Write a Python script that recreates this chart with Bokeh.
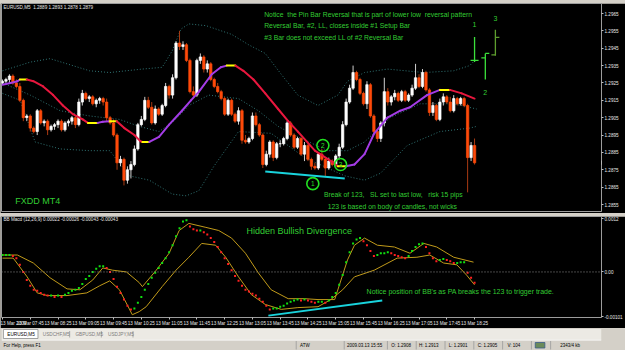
from bokeh.plotting import figure
from bokeh.layouts import column
from bokeh.models import (Range1d, FixedTicker, PrintfTickFormatter, Label,
                          ColumnDataSource, Span, Spacer)
from bokeh.embed import file_html
from bokeh.resources import INLINE
from bokeh.core.properties import value

FONT = "Liberation Sans"
SP = "\u00a0"

# ---------------- EURUSD M5, 13 Mar 2009 07:05 .. 18:25 ----------------
open_ = [1.2925, 1.2926, 1.2927, 1.2929, 1.2925, 1.2923, 1.2915, 1.2905, 1.2906, 1.2899,
         1.2897, 1.2909, 1.2902, 1.2903, 1.2898, 1.2900, 1.2901, 1.2903, 1.2898, 1.2902,
         1.2903, 1.2905, 1.2901, 1.2914, 1.2919, 1.2916, 1.2917, 1.2913, 1.2915, 1.2916,
         1.2914, 1.2905, 1.2902, 1.2895, 1.2879, 1.2881, 1.2869, 1.2875, 1.2878, 1.2887,
         1.2901, 1.2904, 1.2915, 1.2911, 1.2902, 1.2910, 1.2907, 1.2912, 1.2923, 1.2918,
         1.2928, 1.2948, 1.2946, 1.2947, 1.2938, 1.2920, 1.2918, 1.2938, 1.2940, 1.2933,
         1.2936, 1.2927, 1.2923, 1.2920, 1.2916, 1.2907, 1.2915, 1.2907, 1.2903, 1.2909,
         1.2892, 1.2891, 1.2893, 1.2906, 1.2901, 1.2895, 1.2878, 1.2884, 1.2891, 1.2882,
         1.2890, 1.2890, 1.2893, 1.2902, 1.2895, 1.2888, 1.2893, 1.2884, 1.2889, 1.2881,
         1.2877, 1.2876, 1.2884, 1.2881, 1.2876, 1.2880, 1.2878, 1.2883, 1.2888, 1.2901,
         1.2914, 1.2922, 1.2931, 1.2927, 1.2919, 1.2913, 1.2924, 1.2906, 1.2897, 1.2893,
         1.2902, 1.2920, 1.2914, 1.2917, 1.2919, 1.2915, 1.2920, 1.2915, 1.2918, 1.2922,
         1.2928, 1.2923, 1.2931, 1.2921, 1.2908, 1.2912, 1.2904, 1.2914, 1.2917, 1.2914,
         1.2909, 1.2916, 1.2913, 1.2916, 1.2912, 1.2882, 1.2889]
high = [1.2927, 1.2928, 1.2930, 1.2930, 1.2927, 1.2925, 1.2916, 1.2907, 1.2907, 1.2900,
        1.2910, 1.2910, 1.2904, 1.2904, 1.2901, 1.2902, 1.2904, 1.2904, 1.2903, 1.2904,
        1.2906, 1.2906, 1.2916, 1.2921, 1.2920, 1.2918, 1.2918, 1.2916, 1.2917, 1.2917,
        1.2916, 1.2906, 1.2904, 1.2896, 1.2883, 1.2882, 1.2877, 1.2880, 1.2889, 1.2902,
        1.2906, 1.2917, 1.2917, 1.2914, 1.2912, 1.2911, 1.2913, 1.2925, 1.2924, 1.2930,
        1.2949, 1.2955, 1.2949, 1.2948, 1.2939, 1.2923, 1.2939, 1.2942, 1.2941, 1.2938,
        1.2937, 1.2928, 1.2925, 1.2921, 1.2917, 1.2916, 1.2916, 1.2908, 1.2911, 1.2910,
        1.2895, 1.2894, 1.2908, 1.2908, 1.2902, 1.2896, 1.2886, 1.2892, 1.2892, 1.2891,
        1.2892, 1.2894, 1.2903, 1.2903, 1.2896, 1.2894, 1.2894, 1.2891, 1.2890, 1.2882,
        1.2879, 1.2885, 1.2887, 1.2882, 1.2882, 1.2881, 1.2884, 1.2890, 1.2903, 1.2916,
        1.2924, 1.2935, 1.2932, 1.2928, 1.2920, 1.2926, 1.2925, 1.2907, 1.2898, 1.2903,
        1.2928, 1.2922, 1.2918, 1.2921, 1.2920, 1.2921, 1.2921, 1.2919, 1.2924, 1.2936,
        1.2930, 1.2933, 1.2932, 1.2922, 1.2914, 1.2913, 1.2916, 1.2919, 1.2918, 1.2917,
        1.2918, 1.2917, 1.2917, 1.2917, 1.2913, 1.2891, 1.2893]
low = [1.2924, 1.2925, 1.2925, 1.2924, 1.2922, 1.2914, 1.2903, 1.2903, 1.2897, 1.2896,
       1.2895, 1.2901, 1.2900, 1.2895, 1.2897, 1.2898, 1.2899, 1.2897, 1.2897, 1.2900,
       1.2901, 1.2899, 1.2900, 1.2912, 1.2915, 1.2914, 1.2912, 1.2911, 1.2913, 1.2912,
       1.2903, 1.2901, 1.2894, 1.2875, 1.2877, 1.2866, 1.2867, 1.2870, 1.2877, 1.2886,
       1.2900, 1.2903, 1.2910, 1.2901, 1.2901, 1.2906, 1.2906, 1.2911, 1.2916, 1.2916,
       1.2927, 1.2944, 1.2944, 1.2937, 1.2919, 1.2917, 1.2917, 1.2936, 1.2931, 1.2931,
       1.2926, 1.2922, 1.2919, 1.2915, 1.2906, 1.2906, 1.2906, 1.2902, 1.2901, 1.2890,
       1.2890, 1.2890, 1.2892, 1.2900, 1.2894, 1.2876, 1.2877, 1.2882, 1.2880, 1.2881,
       1.2888, 1.2889, 1.2892, 1.2894, 1.2887, 1.2887, 1.2883, 1.2880, 1.2880, 1.2875,
       1.2875, 1.2875, 1.2880, 1.2871, 1.2875, 1.2877, 1.2877, 1.2881, 1.2887, 1.2900,
       1.2913, 1.2921, 1.2926, 1.2918, 1.2912, 1.2910, 1.2905, 1.2896, 1.2891, 1.2891,
       1.2900, 1.2912, 1.2912, 1.2915, 1.2914, 1.2914, 1.2914, 1.2914, 1.2917, 1.2921,
       1.2922, 1.2922, 1.2920, 1.2906, 1.2906, 1.2903, 1.2903, 1.2912, 1.2913, 1.2908,
       1.2908, 1.2912, 1.2912, 1.2911, 1.2862, 1.2880, 1.2878]
close = [1.2926, 1.2927, 1.2929, 1.2925, 1.2923, 1.2915, 1.2905, 1.2906, 1.2899, 1.2897,
         1.2909, 1.2902, 1.2903, 1.2898, 1.2900, 1.2901, 1.2903, 1.2898, 1.2902, 1.2903,
         1.2905, 1.2901, 1.2914, 1.2919, 1.2916, 1.2917, 1.2913, 1.2915, 1.2916, 1.2914,
         1.2905, 1.2902, 1.2895, 1.2879, 1.2881, 1.2869, 1.2875, 1.2878, 1.2887, 1.2901,
         1.2904, 1.2915, 1.2911, 1.2902, 1.2910, 1.2907, 1.2912, 1.2923, 1.2918, 1.2928,
         1.2948, 1.2946, 1.2947, 1.2938, 1.2920, 1.2918, 1.2938, 1.2940, 1.2933, 1.2936,
         1.2927, 1.2923, 1.2920, 1.2916, 1.2907, 1.2915, 1.2907, 1.2903, 1.2909, 1.2892,
         1.2891, 1.2893, 1.2906, 1.2901, 1.2895, 1.2878, 1.2884, 1.2891, 1.2882, 1.2890,
         1.2890, 1.2893, 1.2902, 1.2895, 1.2888, 1.2893, 1.2884, 1.2889, 1.2881, 1.2877,
         1.2876, 1.2884, 1.2881, 1.2876, 1.2880, 1.2878, 1.2883, 1.2888, 1.2901, 1.2914,
         1.2922, 1.2931, 1.2927, 1.2919, 1.2913, 1.2924, 1.2906, 1.2897, 1.2893, 1.2902,
         1.2920, 1.2914, 1.2917, 1.2919, 1.2915, 1.2920, 1.2915, 1.2918, 1.2922, 1.2928,
         1.2923, 1.2931, 1.2921, 1.2908, 1.2912, 1.2904, 1.2914, 1.2917, 1.2914, 1.2909,
         1.2916, 1.2913, 1.2916, 1.2912, 1.2882, 1.2889, 1.2879]

# smoothed moving average (purple up / red down / yellow turn)
ma_bar = [0, 2.3, 4.3, 5, 7, 8.9, 11.7, 14.6, 17.4, 20.3,
          23.1, 24.6, 27.4, 28.9, 30.9, 32.9, 35.1, 38, 39.7, 40.3,
          42.3, 45.1, 48, 51.7, 54.3, 56.6, 60.3, 62.9, 64.6, 67.1,
          69.4, 72.3, 75.7, 79.4, 82.3, 85.1, 90, 94.6, 96.6, 98.9,
          101.4, 104.3, 107.1, 110.9, 114.6, 117.4, 122.3, 126, 128.9, 132.3, 136]
ma_val = [1.2924, 1.2925, 1.2926, 1.2927, 1.2927, 1.2926, 1.2923, 1.2918, 1.2912, 1.2907,
          1.2904, 1.2902, 1.2902, 1.29026, 1.2903, 1.2903, 1.2899, 1.2895, 1.28915, 1.2891,
          1.2891, 1.2894, 1.2901, 1.2909, 1.2915, 1.2920, 1.2930, 1.2934, 1.2935, 1.2935,
          1.2932, 1.2927, 1.2919, 1.2910, 1.2903, 1.2897, 1.2886, 1.2880, 1.2877, 1.2877,
          1.2878, 1.2884, 1.2896, 1.2905, 1.2909, 1.2911, 1.2918, 1.2921, 1.2921, 1.2919, 1.2916]

# Bollinger bands (dotted)
upper_bar = [0, 8, 13.7, 18.6, 25.1, 30.9, 40.3, 46, 48.9, 51.4, 53.7, 58.6, 66, 70.9,
             75.7, 80.3, 85.1, 90.9, 96.6, 99.4, 104.3, 110.9, 121.4, 130, 134.6, 136.6]
upper_val = [1.2932, 1.2937, 1.2939, 1.2936, 1.2932, 1.2931, 1.2933, 1.2934, 1.29435, 1.2956,
             1.2959, 1.2958, 1.2953, 1.2947, 1.2942, 1.2930, 1.2918, 1.2912, 1.2918, 1.2926,
             1.2931, 1.2933, 1.2931, 1.2932, 1.2935, 1.2939]
mid_bar = [0, 8, 16.6, 25.1, 33.7, 39.4, 45.1, 49.4, 53.7, 59.4, 68, 73.7, 79.4, 85.1,
           93.7, 99.4, 104.3, 111.7, 120.3, 130, 136.6]
mid_val = [1.2925, 1.2918, 1.2909, 1.2906, 1.2904, 1.2900, 1.2897, 1.2903, 1.2912, 1.2918,
           1.2916, 1.2909, 1.2900, 1.2894, 1.2886, 1.2886, 1.2891, 1.2905, 1.2913, 1.2913, 1.2910]
lower_bar = [0, 5.1, 9.4, 16.6, 25.1, 30.9, 36.6, 42.3, 48.9, 52.9, 56.6, 60.9, 68, 77.4,
             87.1, 98.6, 104.3, 108.9, 116.6, 126, 134.6, 136.6]
lower_val = [1.2919, 1.2915, 1.2891, 1.2887, 1.2886, 1.2886, 1.28715, 1.2869, 1.2861, 1.2860,
             1.2863, 1.2877, 1.2897, 1.2896, 1.2882, 1.28715, 1.2869, 1.2873, 1.2889, 1.2897,
             1.2899, 1.2900]

support_bar = [75.7, 98.6]
support_val = [1.2874, 1.2870]

circle_bar = [89.4, 92.3, 97.4]
circle_val = [1.2867, 1.2889, 1.2878]
circle_txt = ["1", "2", "3"]

# hand-drawn 1-2-3 sketch bars
sk_bar = [136.0, 139.1, 142.0]
sk_high = [1.29515, 1.2942, 1.29556]
sk_low = [1.2937, 1.2927, 1.29406]
sk_open = [1.2938, 1.29395, 1.29412]
sk_close = [1.2938, 1.2942, 1.29512]
sk_color = ["#3be03b", "#3be03b", "#5e9e2e"]
sk_num_bar = [136.0, 139.1, 142.0]
sk_num_val = [1.29587, 1.29195, 1.29622]
sk_num_txt = ["1", "2", "3"]

price_ticks = [1.2855, 1.2865, 1.2875, 1.2885, 1.2895, 1.2905, 1.2915, 1.2925,
               1.2935, 1.2945, 1.2955, 1.2965]
last_price = 1.2879

time_tick_bars = list(range(0, 137, 8))
time_labels = ["13 Mar 2009", "13 Mar 07:45", "13 Mar 08:25", "13 Mar 09:05", "13 Mar 09:45",
               "13 Mar 10:25", "13 Mar 11:05", "13 Mar 11:45", "13 Mar 12:25", "13 Mar 13:05",
               "13 Mar 13:45", "13 Mar 14:25", "13 Mar 15:05", "13 Mar 15:45", "13 Mar 16:25",
               "13 Mar 17:05", "13 Mar 17:45", "13 Mar 18:25"]

# ---------------- BB MACD ----------------
macd = [0.00038, 0.00038, 0.00038, 0.00036, 0.00031, 0.00016, 0.0, -0.00018, -0.00031, -0.00040,
        -0.00042, -0.00047, -0.00051, -0.00053, -0.00053, -0.00056, -0.00053, -0.00056, -0.00051, -0.00047,
        -0.00042, -0.00040, -0.00036, -0.00027, -0.00016, -0.00009, 0.0, 0.00007, 0.00013, 0.00013,
        0.00009, 0.0, -0.00016, -0.00033, -0.00047, -0.00062, -0.00076, -0.00084, -0.00082, -0.00069,
        -0.00056, -0.00040, -0.00027, -0.00013, -0.00002, 0.00009, 0.00020, 0.00031, 0.00044, 0.00060,
        0.00080, 0.00098, 0.00113, 0.00116, 0.00102, 0.00096, 0.00093, 0.00093, 0.00089, 0.00084,
        0.00076, 0.00067, 0.00056, 0.00044, 0.00031, 0.00018, 0.00004, -0.00009, -0.00020, -0.00031,
        -0.00040, -0.00044, -0.00049, -0.00053, -0.00060, -0.00067, -0.00076, -0.00084, -0.00082, -0.00082,
        -0.00078, -0.00076, -0.00071, -0.00067, -0.00064, -0.00062, -0.00064, -0.00062, -0.00064, -0.00067,
        -0.00069, -0.00067, -0.00067, -0.00069, -0.00064, -0.00056, -0.00047, -0.00029, -0.00007, 0.00022,
        0.00044, 0.00064, 0.00073, 0.00076, 0.00069, 0.00060, 0.00047, 0.00036, 0.00038, 0.00042,
        0.00042, 0.00044, 0.00042, 0.00038, 0.00036, 0.00033, 0.00031, 0.00036, 0.00047, 0.00056,
        0.00062, 0.00064, 0.00056, 0.00042, 0.00031, 0.00024, 0.00027, 0.00029, 0.00027, 0.00024,
        0.00020, 0.00020, 0.00022, 0.00022, -0.00002, -0.00013, -0.00024]
bbu_bar = [0, 4.3, 8.9, 13.7, 18.6, 22.3, 26, 28.9, 31.7, 35.7, 39.4, 40.3, 44.3, 48, 50.9,
           53.7, 58.6, 62.3, 66, 70, 73.7, 77.4, 82.3, 87.1, 90.9, 95.7, 99.4, 101.4, 104.3,
           108, 112.9, 117.4, 121.4, 125.1, 130, 135.7]
bbu_val = [0.00038, 0.00038, 0.00020, -0.00013, -0.00038, -0.00040, -0.00018, 0.00009, 0.00004,
           0.0, -0.00024, -0.00033, 0.00004, 0.00042, 0.00093, 0.00109, 0.00100, 0.00093, 0.00076,
           0.00042, -0.00002, -0.00040, -0.00060, -0.00060, -0.00062, -0.00062, 0.00027, 0.00060,
           0.00076, 0.00060, 0.00056, 0.00042, 0.00064, 0.00056, 0.00033, 0.00022]
bbl_bar = [0, 3.1, 7.1, 10, 12.9, 18.6, 24.3, 28, 30.9, 33.7, 37.4, 39.4, 41.4, 46, 50, 53.7,
           57.4, 61.4, 64.3, 68, 71.7, 75.7, 80.3, 85.1, 90.9, 94.6, 98, 101.4, 107.1, 113.7,
           119.4, 123.1, 127.1, 130.9, 133.7, 136]
bbl_val = [0.00031, 0.00031, -0.00011, -0.00047, -0.00053, -0.00053, -0.00047, -0.00031, -0.00020,
           -0.00040, -0.00096, -0.00089, -0.00078, -0.00033, 0.00004, 0.00033, 0.00064, 0.00060,
           0.00033, -0.00011, -0.00051, -0.00073, -0.00084, -0.00080, -0.00078, -0.00062, -0.00040,
           -0.00011, 0.00004, 0.00031, 0.00033, 0.00038, 0.00020, 0.00016, -0.00007, -0.00029]
div_bar = [76.6, 109.4]
div_val = [-0.00098, -0.00064]
macd_ticks = [0.0012, 0, -0.00101]
macd_labels = {0.0012: "0.0012", 0: "0.00", -0.00101: "-0.00101"}

tab_names = ["EURUSD,M5", "USDCHF,M5", "GBPUSD,M5", "USDJPY,M5"]
status_texts = ["ATW", "2009.03.13 15:55", "O: 1.2908", "H: 1.2913", "L: 1.2901",
                "C: 1.2905", "V: 104", "2343/4 kb"]

GREEN = "#33cc33"
n = len(close)
bars = list(range(n))
xr = Range1d(-0.286, 172.571)


def chart_style(p):
    p.background_fill_color = "black"
    p.border_fill_color = "black"
    p.outline_line_color = "#9c9c9c"
    p.xgrid.visible = False
    p.ygrid.visible = False


def axis_style(ax, size="4.6px"):
    ax.axis_line_color = None
    ax.major_tick_line_color = "#bdbdbd"
    ax.major_tick_in = 0
    ax.major_tick_out = 2
    ax.minor_tick_line_color = None
    ax.major_label_standoff = 1
    ax.major_label_text_font = FONT
    ax.major_label_text_font_size = size
    ax.major_label_text_color = "#e8e8e8"


# ---------------- main price chart ----------------
pA = figure(width=625, height=210, x_range=xr, y_range=Range1d(1.285097, 1.297076),
            output_backend="svg", toolbar_location=None, x_axis_location=None,
            y_axis_location="right", min_border_left=1, min_border_right=19,
            min_border_top=0, min_border_bottom=2)
chart_style(pA)
ya = pA.yaxis[0]
ya.ticker = FixedTicker(ticks=price_ticks)
ya.formatter = PrintfTickFormatter(format="%.4f")
axis_style(ya)

bull = [c >= o for o, c in zip(open_, close)]
src = ColumnDataSource(dict(
    x=bars, h=high, l=low,
    top=[max(o, c) for o, c in zip(open_, close)],
    bot=[min(o, c) for o, c in zip(open_, close)],
    body=["#ffffff" if b else "#ff4a0a" for b in bull],
    wick=["#cfcfcf" if b else "#a83a12" for b in bull]))

for bx, bv in ((upper_bar, upper_val), (mid_bar, mid_val), (lower_bar, lower_val)):
    pA.line(bx, bv, line_color="#2f7373", line_dash="1 2", line_width=1)

pA.segment("x", "h", "x", "l", source=src, line_color="wick", line_width=1)
pA.vbar(x="x", width=0.68, top="top", bottom="bot", source=src,
        fill_color="body", line_color="body", line_width=0.7)

seg_col = []
for i in range(len(ma_val) - 1):
    d = ma_val[i + 1] - ma_val[i]
    seg_col.append("#ffff00" if abs(d) < 1e-7 else ("#a43ce6" if d > 0 else "#e8173e"))
pA.segment(x0=ma_bar[:-1], y0=ma_val[:-1], x1=ma_bar[1:], y1=ma_val[1:],
           line_color=seg_col, line_width=2, line_cap="round")

pA.line(support_bar, support_val, line_color="#19d3dc", line_width=2)

pA.scatter(circle_bar, circle_val, marker="circle", size=12, fill_alpha=0,
           line_color="#22e022", line_width=1.6)
pA.text(circle_bar, circle_val, text=circle_txt, text_font=value(FONT), text_font_size="6.5px",
        text_color="#22e022", text_align="center", text_baseline="middle")

# 1-2-3 sketch
pA.segment(x0=sk_bar, y0=sk_high, x1=sk_bar, y1=sk_low, line_color=sk_color, line_width=1.3)
pA.segment(x0=[b - 1.15 for b in sk_bar], y0=sk_open, x1=sk_bar, y1=sk_open,
           line_color=sk_color, line_width=1.3)
pA.segment(x0=sk_bar, y0=sk_close, x1=[b + 1.15 for b in sk_bar], y1=sk_close,
           line_color=sk_color, line_width=1.3)
pA.text(sk_num_bar, sk_num_val, text=sk_num_txt, text_font=value(FONT), text_font_size="7px",
        text_color=GREEN, text_align="center", text_baseline="middle")

note_x = [75.4, 75.4, 75.4]
note_y = [1.29644, 1.29581, 1.29512]
note_t = ["Notice" + SP + " the Pin Bar Reversal that is part of lower low" + SP + " reversal pattern",
          "Reversal Bar, #2, LL, closes inside #1 Setup Bar",
          "#3 Bar does not exceed LL of #2 Reversal Bar"]
pA.text(note_x, note_y, text=note_t, text_font=value(FONT), text_font_size="6.8px",
        text_color=GREEN, text_align="left", text_baseline="middle")
pA.text([92.6, 93.7], [1.28608, 1.28538],
        text=["Break of 123," + SP * 2 + " SL set to last low," + SP * 2 + " risk 15 pips",
              "123 is based on body of candles, not wicks"],
        text_font=value(FONT), text_font_size="6.8px", text_color=GREEN,
        text_align="left", text_baseline="middle")
pA.text([3.7], [1.28573], text=["FXDD MT4"], text_font=value(FONT), text_font_size="9px",
        text_color=GREEN, text_align="left", text_baseline="middle")
pA.text([0.3], [1.29685], text=["EURUSD,M5" + SP + " 1.2889 1.2893 1.2878 1.2879"],
        text_font=value(FONT), text_font_size="4.6px", text_color="#e8e8e8",
        text_align="left", text_baseline="middle")
pA.add_layout(Label(x=172.571, y=last_price, x_offset=0, text="1.2879", text_font=FONT,
                    text_font_size="4.6px", text_color="black", text_baseline="middle",
                    background_fill_color="white"))

# ---------------- BB MACD panel ----------------
pB = figure(width=625, height=112, x_range=xr, y_range=Range1d(-0.0010222, 0.0012444),
            output_backend="svg", toolbar_location=None, y_axis_location="right",
            min_border_left=1, min_border_right=19, min_border_top=0, min_border_bottom=10)
chart_style(pB)
yb = pB.yaxis[0]
yb.ticker = FixedTicker(ticks=macd_ticks)
yb.major_label_overrides = macd_labels
axis_style(yb)
xb = pB.xaxis[0]
xb.ticker = FixedTicker(ticks=time_tick_bars)
xb.major_label_overrides = {b: t for b, t in zip(time_tick_bars, time_labels)}
axis_style(xb)
xb.major_label_text_align = "left"

pB.add_layout(Span(location=0, dimension="width", line_color="#8c8c8c",
                   line_dash="1 2", line_width=1))
pB.line(bbu_bar, bbu_val, line_color="#c09a1a", line_width=1)
pB.line(bbl_bar, bbl_val, line_color="#c09a1a", line_width=1)
dot_col = []
prev = macd[0]
for v in macd:
    dot_col.append("#10e010" if v >= prev else "#ff2020")
    prev = v
pB.scatter(bars, macd, marker="square", size=2, fill_color=dot_col, line_color=None)
pB.line(div_bar, div_val, line_color="#19d3dc", line_width=2)
pB.text([0.3], [0.00118], text=["BB Macd (12,26,9) 0.00022 -0.00026 -0.00043 -0.00043"],
        text_font=value(FONT), text_font_size="4.6px", text_color="#e8e8e8",
        text_align="left", text_baseline="middle")
pB.text([70.3], [0.00093], text=["Hidden Bullish Divergence"], text_font=value(FONT),
        text_font_size="9px", text_color=GREEN, text_align="left", text_baseline="middle")
pB.text([104.9], [-0.00044],
        text=["Notice position of BB's as PA breaks the 123 to trigger trade."],
        text_font=value(FONT), text_font_size="7px", text_color=GREEN,
        text_align="left", text_baseline="middle")

# ---------------- tabs + status bar ----------------
pC = figure(width=625, height=22, x_range=Range1d(0, 625), y_range=Range1d(22, 0),
            output_backend="svg", toolbar_location=None, x_axis_location=None,
            y_axis_location=None, min_border=0)
pC.background_fill_color = "#d4d0c8"
pC.border_fill_color = "#d4d0c8"
pC.outline_line_color = None
pC.xgrid.visible = False
pC.ygrid.visible = False
pC.quad(left=[0], right=[625], top=[0.5], bottom=[11], fill_color="#eceae4", line_color=None)
pC.quad(left=[2], right=[38], top=[1], bottom=[10], fill_color="white",
        line_color="#8a8a8a", line_width=0.8)
pC.segment(x0=[71, 104, 137], y0=[2.5] * 3, x1=[71, 104, 137], y1=[9] * 3,
           line_color="#9a9a9a", line_width=0.8)
pC.text([6, 43, 77, 111], [5.8] * 4, text=tab_names, text_font=value(FONT),
        text_font_size="4.7px", text_color=["#000000", "#7c7c7c", "#7c7c7c", "#7c7c7c"],
        text_align="left", text_baseline="middle")
pC.segment(x0=[0], y0=[11.5], x1=[625], y1=[11.5], line_color="#ffffff", line_width=1)
pC.segment(x0=[307, 357, 402, 432, 462, 492, 522, 552, 572], y0=[12.5] * 9,
           x1=[307, 357, 402, 432, 462, 492, 522, 552, 572], y1=[21] * 9,
           line_color="#9a9a9a", line_width=0.8)
pC.text([2], [16.8], text=["For Help, press F1"], text_font=value(FONT),
        text_font_size="4.5px", text_color="#000000", text_align="left", text_baseline="middle")
pC.text([311, 360, 406, 435, 466, 496, 527, 582], [16.8] * 8, text=status_texts,
        text_font=value(FONT), text_font_size="4.5px", text_color="#000000",
        text_align="left", text_baseline="middle")
pC.quad(left=[556], right=[566], top=[14], bottom=[19.5], fill_color="#6a8a5a",
        line_color="#3a5a8a", line_width=0.8)

layout = column(Spacer(width=625, height=3), pA, Spacer(width=625, height=3), pB, pC,
                spacing=0, styles={"background-color": "#d4d0c8"})

open("out.html", "w").write(file_html(layout, INLINE))
